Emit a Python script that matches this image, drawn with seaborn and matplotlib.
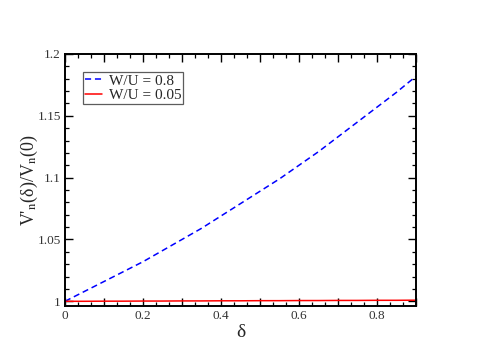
import numpy as np
import pandas as pd
import matplotlib
matplotlib.use("Agg")
import matplotlib.pyplot as plt
import seaborn as sns
from matplotlib.ticker import MultipleLocator, FuncFormatter

delta = [0.0, 0.05, 0.1, 0.15, 0.2, 0.25, 0.3, 0.35, 0.4, 0.45,
         0.5, 0.55, 0.6, 0.65, 0.7, 0.75, 0.8, 0.85, 0.9]
ratio_w08 = [1.000, 1.008, 1.016, 1.024, 1.032, 1.041, 1.050, 1.059, 1.069, 1.079,
             1.089, 1.099, 1.110, 1.121, 1.133, 1.145, 1.157, 1.169, 1.182]
ratio_w005 = [1.0000, 1.0000, 1.0001, 1.0001, 1.0002, 1.0002, 1.0003, 1.0003, 1.0004, 1.0004,
              1.0005, 1.0005, 1.0006, 1.0006, 1.0007, 1.0007, 1.0008, 1.0008, 1.0009]
labels = ["W/U = 0.8", "W/U = 0.05"]

df = pd.concat([
    pd.DataFrame({"delta": delta, "ratio": ratio_w08, "series": labels[0]}),
    pd.DataFrame({"delta": delta, "ratio": ratio_w005, "series": labels[1]}),
])

sns.set_style("ticks")
plt.rcParams['font.family'] = ['Liberation Serif', 'DejaVu Serif']
plt.rcParams['mathtext.fontset'] = 'stix'

fig = plt.figure(figsize=(4.98, 3.52), dpi=100)
ax = fig.add_axes([0.1305, 0.1307, 0.7048, 0.7159])

sns.lineplot(data=df, x="delta", y="ratio", hue="series", style="series",
             palette={labels[0]: "#0000ff", labels[1]: "#ff0000"},
             dashes={labels[0]: (4, 2.5), labels[1]: ""},
             linewidth=1.1, ax=ax, legend=True)

ax.set_xlim(0, 0.9)
ax.set_ylim(0.9962, 1.2)
ax.xaxis.set_major_locator(MultipleLocator(0.1))
ax.xaxis.set_minor_locator(MultipleLocator(0.1 / 3))
ax.xaxis.set_major_formatter(FuncFormatter(
    lambda v, p: ("0" if abs(v) < 1e-9 else f"{v:.1f}") if round(v * 10) % 2 == 0 else ""))
ax.yaxis.set_major_locator(MultipleLocator(0.05))
ax.yaxis.set_minor_locator(MultipleLocator(0.01))
ax.yaxis.set_major_formatter(FuncFormatter(
    lambda v, p: f"{v:.2f}".rstrip("0").rstrip(".")))

ax.tick_params(which="both", direction="in", top=True, right=True, color="black",
               labelsize=9.5, labelcolor="#333333", pad=3)
ax.tick_params(which="major", length=6, width=1.0)
ax.tick_params(which="minor", length=3, width=0.9)
for s in ax.spines.values():
    s.set_linewidth(1.4)
    s.set_color("black")

ax.set_xlabel("δ", fontsize=14, labelpad=1)
ax.set_ylabel(r"V'$_{\rm n}$(δ)/V$_{\rm n}$(0)", fontsize=13, labelpad=-2)

leg = ax.legend(loc="upper left", bbox_to_anchor=(0.05, 0.93), fontsize=11,
                frameon=True, fancybox=False, edgecolor="#333333",
                borderpad=0.15, labelspacing=0.05, handlelength=1.1,
                handletextpad=0.45, borderaxespad=0)
leg.get_frame().set_linewidth(0.9)

fig.savefig("out.png", dpi=100)
